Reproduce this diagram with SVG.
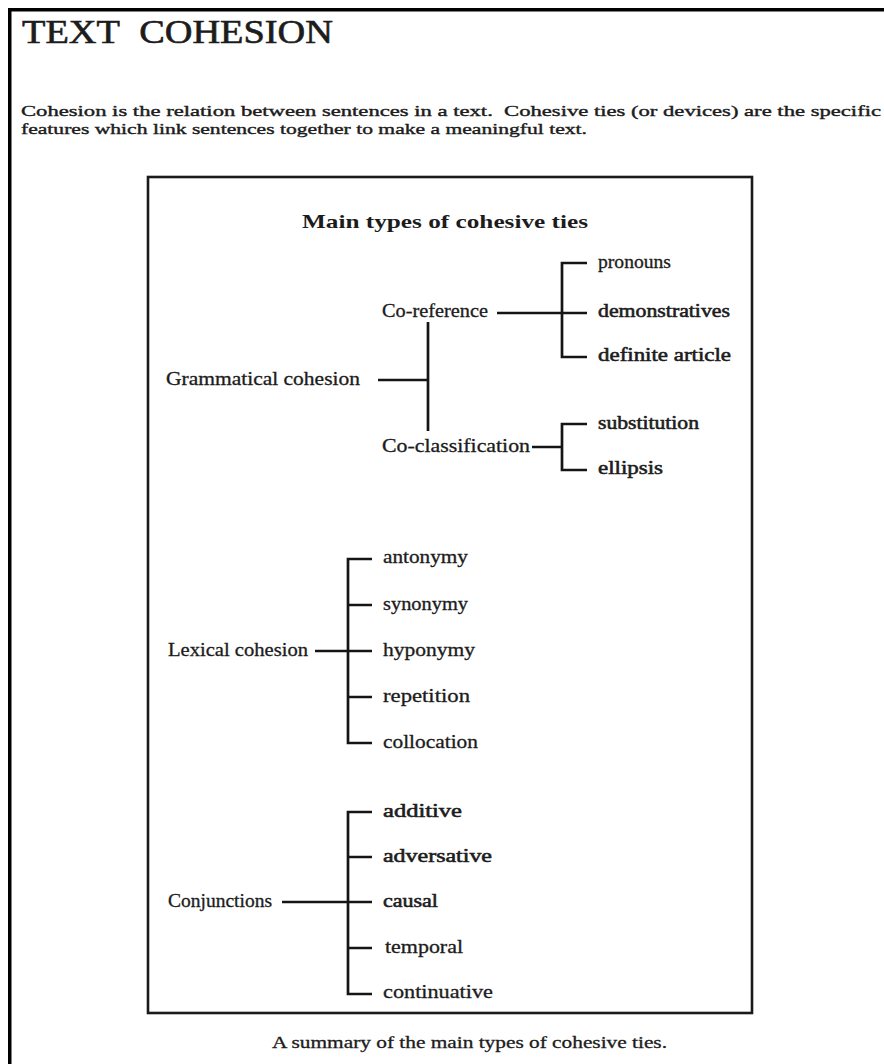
<svg xmlns="http://www.w3.org/2000/svg" width="884" height="1064" viewBox="0 0 884 1064">
<style>
text{font-family:"Liberation Serif","Times New Roman",serif;fill:#1c1c1c}
.t{font-size:33px;stroke:#1c1c1c;stroke-width:0.6}
.p{font-size:15.5px;stroke:#1c1c1c;stroke-width:0.4}
.h{font-size:19.5px;font-weight:bold}
.l{font-size:18px;stroke:#1c1c1c;stroke-width:0.3}
.b{font-size:18px;stroke:#1c1c1c;stroke-width:0.55}
.c{font-size:16px;stroke:#1c1c1c;stroke-width:0.3}
.ln{stroke:#151515;stroke-width:2.7;fill:none;stroke-linecap:butt}
.frame{stroke:#000;stroke-width:3.5;fill:none}
.box{stroke:#1a1a1a;stroke-width:2.6;fill:none}
</style>
<rect width="884" height="1064" fill="#fff"/>
<g id="frame">
<path class="frame" d="M9.75 1064 V9.75 H884"/>
</g>
<g id="header">
<text class="t" x="22" y="43" textLength="311" lengthAdjust="spacingAndGlyphs">TEXT&#160;&#160;COHESION</text>
<text class="p" x="21" y="116" textLength="860" lengthAdjust="spacingAndGlyphs">Cohesion is the relation between sentences in a text.&#160; Cohesive ties (or devices) are the specific</text>
<text class="p" x="21" y="134" textLength="566" lengthAdjust="spacingAndGlyphs">features which link sentences together to make a meaningful text.</text>
</g>
<g id="panel">
<rect class="box" x="148" y="177" width="604" height="836"/>
<text class="h" x="302" y="228" textLength="286" lengthAdjust="spacingAndGlyphs">Main types of cohesive ties</text>
</g>
<g id="connectors">
<path class="ln" d="M378 380 H428 M428 322 V431"/>
<path class="ln" d="M497 313 H587 M587 263 H562 V357 H587"/>
<path class="ln" d="M532 447 H562 M587 424 H562 V470 H587"/>
<path class="ln" d="M315 651 H372 M372 559 H348 V743 H372 M348 605 H372 M348 697 H372"/>
<path class="ln" d="M282 902 H372 M372 812 H348 V994 H372 M348 857 H372 M348 948 H372"/>
</g>
<g id="node-grammatical">
<text class="l" x="166" y="385" textLength="194" lengthAdjust="spacingAndGlyphs">Grammatical cohesion</text>
</g>
<g id="node-coreference">
<text class="l" x="382" y="317" textLength="106" lengthAdjust="spacingAndGlyphs">Co-reference</text>
</g>
<g id="node-coclassification">
<text class="l" x="382" y="452" textLength="148" lengthAdjust="spacingAndGlyphs">Co-classification</text>
</g>
<g id="node-pronouns"><text class="l" x="598" y="268" textLength="73" lengthAdjust="spacingAndGlyphs">pronouns</text></g>
<g id="node-demonstratives"><text class="b" x="598" y="317" textLength="132" lengthAdjust="spacingAndGlyphs">demonstratives</text></g>
<g id="node-definite"><text class="b" x="598" y="361" textLength="133" lengthAdjust="spacingAndGlyphs">definite article</text></g>
<g id="node-substitution"><text class="b" x="598" y="429" textLength="101" lengthAdjust="spacingAndGlyphs">substitution</text></g>
<g id="node-ellipsis"><text class="b" x="598" y="474" textLength="65" lengthAdjust="spacingAndGlyphs">ellipsis</text></g>
<g id="node-lexical"><text class="l" x="168" y="656" textLength="140" lengthAdjust="spacingAndGlyphs">Lexical cohesion</text></g>
<g id="node-antonymy"><text class="l" x="383" y="563" textLength="85" lengthAdjust="spacingAndGlyphs">antonymy</text></g>
<g id="node-synonymy"><text class="l" x="383" y="610" textLength="85" lengthAdjust="spacingAndGlyphs">synonymy</text></g>
<g id="node-hyponymy"><text class="l" x="383" y="656" textLength="92" lengthAdjust="spacingAndGlyphs">hyponymy</text></g>
<g id="node-repetition"><text class="l" x="383" y="702" textLength="87" lengthAdjust="spacingAndGlyphs">repetition</text></g>
<g id="node-collocation"><text class="l" x="383" y="748" textLength="95" lengthAdjust="spacingAndGlyphs">collocation</text></g>
<g id="node-conjunctions"><text class="l" x="168" y="907" textLength="104" lengthAdjust="spacingAndGlyphs">Conjunctions</text></g>
<g id="node-additive"><text class="b" x="383" y="817" textLength="79" lengthAdjust="spacingAndGlyphs">additive</text></g>
<g id="node-adversative"><text class="b" x="383" y="862" textLength="109" lengthAdjust="spacingAndGlyphs">adversative</text></g>
<g id="node-causal"><text class="b" x="383" y="907" textLength="55" lengthAdjust="spacingAndGlyphs">causal</text></g>
<g id="node-temporal"><text class="l" x="385" y="953" textLength="78" lengthAdjust="spacingAndGlyphs">temporal</text></g>
<g id="node-continuative"><text class="l" x="383" y="998" textLength="110" lengthAdjust="spacingAndGlyphs">continuative</text></g>
<g id="caption">
<text class="c" x="272" y="1048" textLength="395" lengthAdjust="spacingAndGlyphs">A summary of the main types of cohesive ties.</text>
</g>
</svg>
